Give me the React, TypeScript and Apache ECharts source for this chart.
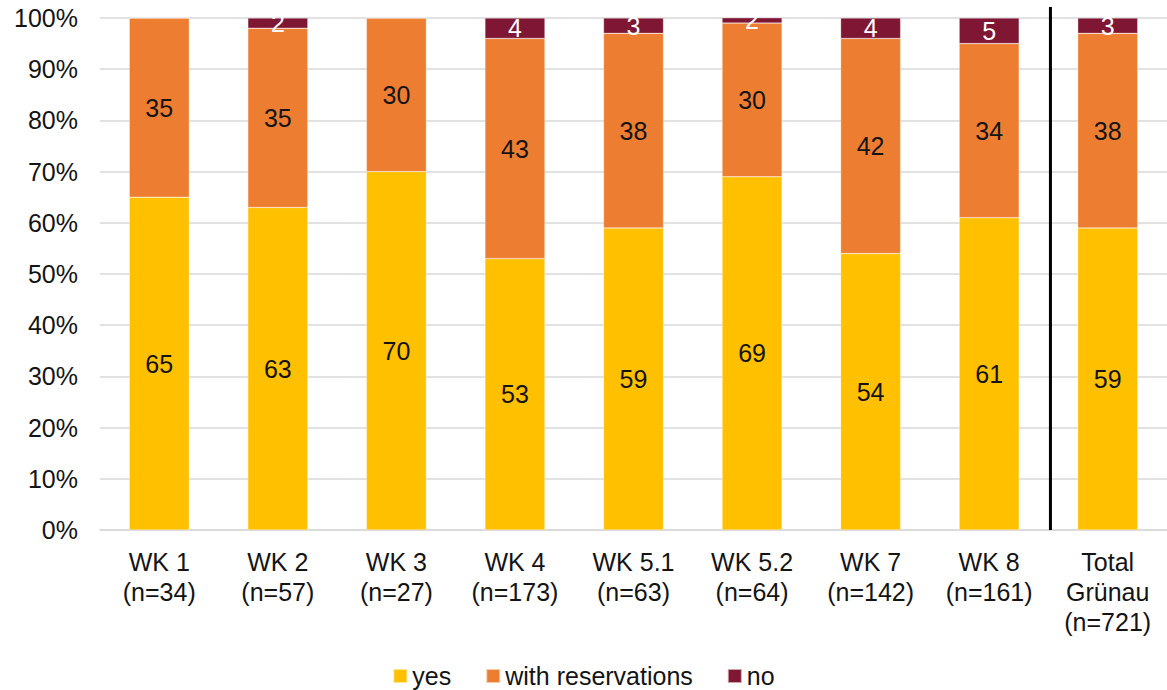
import React, { useEffect, useRef } from "react";
import * as echarts from "echarts";

// Survey answers per district, in percent of respondents
const categories = [
  "WK 1\n(n=34)",
  "WK 2\n(n=57)",
  "WK 3\n(n=27)",
  "WK 4\n(n=173)",
  "WK 5.1\n(n=63)",
  "WK 5.2\n(n=64)",
  "WK 7\n(n=142)",
  "WK 8\n(n=161)",
  "Total\nGrünau\n(n=721)",
];
const yesValues = [65, 63, 70, 53, 59, 69, 54, 61, 59];
const reservationValues = [35, 35, 30, 43, 38, 30, 42, 34, 38];
const noValues = [0, 2, 0, 4, 3, 2, 4, 5, 3];
const yTicks = [0, 10, 20, 30, 40, 50, 60, 70, 80, 90, 100];

const FONT = '"Liberation Sans", Arial, sans-serif';
const TEXT = "#141414";
const FS = 25;

export default function App() {
  const ref = useRef<HTMLDivElement>(null);

  useEffect(() => {
    document.body.style.margin = "0";
    if (!ref.current) return;
    const chart = echarts.init(ref.current, undefined, { renderer: "svg" });

    const makeSeries = (name: string, data: number[], color: string, labelColor: string) => ({
      name,
      type: "bar",
      stack: "total",
      barWidth: 60,
      data,
      itemStyle: { color, borderColor: "rgba(255,255,255,0.6)", borderWidth: 0.5 },
      label: {
        show: true,
        position: "inside",
        color: labelColor,
        fontSize: FS,
        fontFamily: FONT,
        formatter: (p: any) => (p.value ? String(p.value) : ""),
      },
    });

    chart.setOption({
      animation: false,
      textStyle: { fontFamily: FONT },
      grid: { left: 100, top: 18, width: 1073, height: 512 },
      legend: {
        top: 661,
        left: "center",
        icon: "rect",
        itemWidth: 14,
        itemHeight: 14,
        itemGap: 34,
        padding: 0,
        textStyle: { fontSize: FS, color: TEXT, fontFamily: FONT, lineHeight: 30 },
        data: ["yes", "with reservations", "no"],
      },
      xAxis: {
        type: "category",
        data: categories,
        axisLine: { lineStyle: { color: "#d9d9d9", width: 1.5 } },
        axisTick: { show: false },
        axisLabel: {
          fontSize: FS,
          lineHeight: 30,
          color: TEXT,
          margin: 17,
          interval: 0,
          fontFamily: FONT,
        },
      },
      yAxis: {
        type: "value",
        min: yTicks[0],
        max: yTicks[yTicks.length - 1],
        interval: 10,
        axisLine: { show: false },
        axisTick: { show: false },
        splitLine: { lineStyle: { color: "#d9d9d9", width: 1.5 } },
        axisLabel: {
          fontSize: FS,
          color: TEXT,
          margin: 22,
          fontFamily: FONT,
          formatter: (v: number) => `${v}%`,
        },
      },
      series: [
        makeSeries("yes", yesValues, "#FFC000", TEXT),
        makeSeries("with reservations", reservationValues, "#ED7D31", TEXT),
        makeSeries("no", noValues, "#7F1734", "#ffffff"),
      ],
    });

    // Separator between the districts and the overall total
    const left = chart.convertToPixel({ xAxisIndex: 0 }, categories[7]) as number;
    const right = chart.convertToPixel({ xAxisIndex: 0 }, categories[8]) as number;
    const bottom = chart.convertToPixel({ yAxisIndex: 0 }, 0) as number;
    const sepX = (left + right) / 2 + 2;
    chart.setOption({
      graphic: [
        {
          type: "line",
          shape: { x1: sepX, y1: 7, x2: sepX, y2: bottom },
          style: { stroke: "#000000", lineWidth: 3 },
          z: 10,
        },
      ],
    });

    return () => chart.dispose();
  }, []);

  return <div ref={ref} style={{ width: 1167, height: 690 }} />;
}
